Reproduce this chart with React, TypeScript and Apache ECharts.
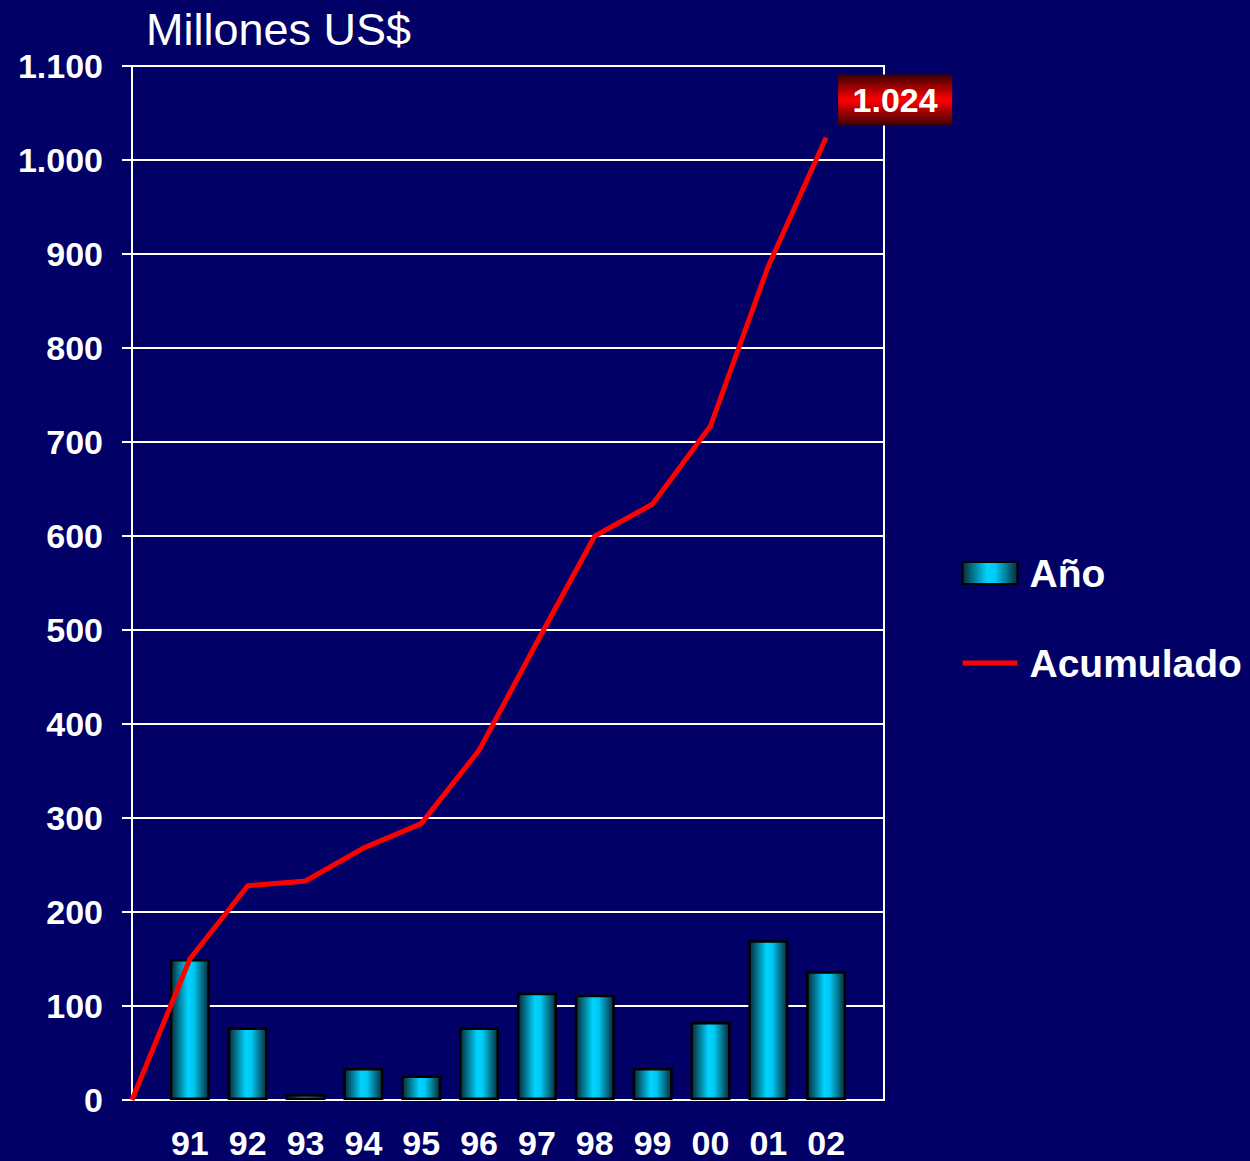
import React, { useEffect, useRef } from "react";
import * as echarts from "echarts";

const categories = ["", "91", "92", "93", "94", "95", "96", "97", "98", "99", "00", "01", "02", ""];
const anualValues = [150, 77, 6, 34, 26, 77, 114, 112, 34, 83, 170, 137];
const acumuladoValues = [0, 150, 228, 233, 268, 294, 372, 487, 600, 634, 717, 887, 1024];
const yTicks = { min: 0, max: 1100, interval: 100 };
const seriesNames = { bar: "Año", line: "Acumulado" };
const titleText = "Millones US$";

const fmt = (v: number) => String(v).replace(/\B(?=(\d{3})+(?!\d))/g, ".");
const FONT = "Liberation Sans, Arial, sans-serif";

export default function App() {
  const ref = useRef<HTMLDivElement>(null);
  useEffect(() => {
    if (!ref.current) return;
    const chart = echarts.init(ref.current, null, { renderer: "svg" });
    const barGrad = new echarts.graphic.LinearGradient(0, 0, 1, 0, [
      { offset: 0, color: "#062a38" },
      { offset: 0.45, color: "#00d4ff" },
      { offset: 0.6, color: "#00c8f2" },
      { offset: 1, color: "#062a38" },
    ]);
    const redGrad = new echarts.graphic.LinearGradient(0, 0, 0, 1, [
      { offset: 0, color: "#3a0000" },
      { offset: 0.5, color: "#ff0000" },
      { offset: 1, color: "#3a0000" },
    ]);
    const lastIdx = acumuladoValues.length - 1;
    chart.setOption({
      animation: false,
      backgroundColor: "#000066",
      textStyle: { fontFamily: FONT },
      title: {
        text: titleText,
        left: 141,
        top: 2,
        textStyle: { color: "#ffffff", fontSize: 45, fontWeight: "normal", fontFamily: FONT },
      },
      legend: {
        orient: "vertical",
        left: 955,
        top: 548,
        itemWidth: 55,
        itemHeight: 22,
        itemGap: 50,
        data: [
          { name: seriesNames.bar, icon: "rect" },
          {
            name: seriesNames.line,
            itemStyle: { opacity: 0 },
            lineStyle: { color: "#ff0000", width: 5, opacity: 1 },
          },
        ],
        textStyle: { color: "#ffffff", fontSize: 39, fontWeight: "bold", fontFamily: FONT, lineHeight: 40, padding: [0, 0, 0, 7] },
      },
      grid: {
        left: 132,
        right: 366,
        top: 66,
        bottom: 61,
        show: true,
        borderColor: "#ffffff",
        borderWidth: 2,
        backgroundColor: "transparent",
      },
      xAxis: {
        type: "category",
        boundaryGap: false,
        data: categories,
        axisLine: { lineStyle: { color: "#ffffff", width: 2 } },
        axisTick: { show: false },
        axisLabel: {
          color: "#ffffff",
          fontSize: 34,
          fontWeight: "bold",
          margin: 26,
          interval: 0,
        },
        splitLine: { show: false },
      },
      yAxis: {
        type: "value",
        min: yTicks.min,
        max: yTicks.max,
        interval: yTicks.interval,
        axisLine: { show: true, lineStyle: { color: "#ffffff", width: 2 } },
        axisTick: { show: true, length: 10, lineStyle: { color: "#ffffff", width: 2 } },
        axisLabel: {
          color: "#ffffff",
          fontSize: 34,
          fontWeight: "bold",
          margin: 29,
          formatter: (v: number) => fmt(v),
        },
        splitLine: { show: true, lineStyle: { color: "#ffffff", width: 2 } },
      },
      series: [
        {
          name: seriesNames.bar,
          type: "bar",
          barWidth: 40,
          data: ["-", ...anualValues, "-"],
          itemStyle: { color: barGrad, borderColor: "#000000", borderWidth: 2.5 },
          z: 2,
        },
        {
          name: seriesNames.line,
          type: "line",
          data: acumuladoValues,
          symbol: "none",
          itemStyle: { color: "#ff0000" },
          lineStyle: { color: "#ff0000", width: 5 },
          z: 3,
        },
        {
          name: "endLabel",
          type: "scatter",
          data: [[lastIdx, acumuladoValues[lastIdx]]],
          symbolSize: 0.1,
          itemStyle: { color: "rgba(0,0,0,0)", opacity: 1 },
          silent: true,
          z: 4,
          label: {
            show: true,
            position: "top",
            offset: [69, -7],
            formatter: (p: any) => fmt(p.value[1]),
            color: "#ffffff",
            opacity: 1,
            fontFamily: FONT,
            fontWeight: "bold",
            fontSize: 34,
            backgroundColor: redGrad,
            width: 114,
            height: 51,
            lineHeight: 51,
            align: "center",
            padding: 0,
          },
        },
      ],
    });
    return () => chart.dispose();
  }, []);
  return (
    <div
      ref={ref}
      style={{ position: "absolute", left: 0, top: 0, width: 1250, height: 1161 }}
    />
  );
}
